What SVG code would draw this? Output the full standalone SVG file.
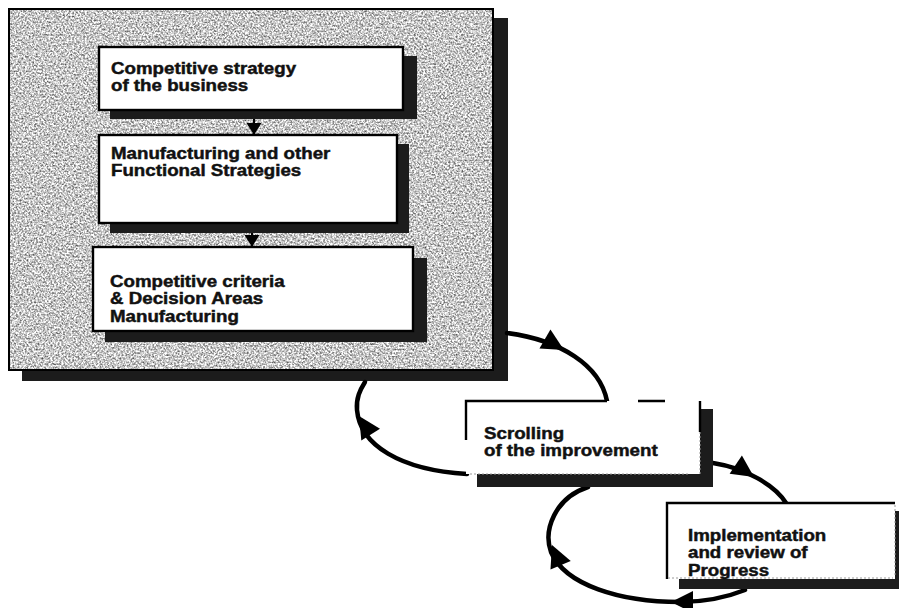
<svg xmlns="http://www.w3.org/2000/svg" width="899" height="608" viewBox="0 0 899 608">
  <style>
    .shadow{fill:#1c1c1c}
    .box{fill:#fff;stroke:#000;stroke-width:2.4}
    .edge{fill:none;stroke:#000;stroke-width:2.4}
    .faint{fill:none;stroke:#9a9a9a;stroke-width:1;stroke-dasharray:2 2}
    .lbl{font-family:"Liberation Sans",Arial,sans-serif;font-weight:bold;font-size:16px;fill:#111;stroke:#111;stroke-width:0.45}
    .arc{fill:none;stroke:#000;stroke-width:4.5;stroke-linecap:round}
    .link{stroke:#000;stroke-width:2}
  </style>
  <defs>
    <!-- speckled grey paper texture for the strategy panel -->
    <filter id="grain" x="0" y="0" width="1" height="1" color-interpolation-filters="sRGB">
      <feTurbulence type="fractalNoise" baseFrequency="0.55" numOctaves="2" seed="7"/>
      <feColorMatrix type="matrix" values="1.3 0 0 0 0.13  1.3 0 0 0 0.13  1.3 0 0 0 0.13  0 0 0 0 1"/>
      <feComposite in2="SourceGraphic" operator="in"/>
    </filter>
    <marker id="tri" viewBox="0 0 10 10" refX="10" refY="5" markerWidth="12" markerHeight="15" markerUnits="userSpaceOnUse" orient="auto" preserveAspectRatio="none">
      <path d="M0,0 L10,5 L0,10 Z" fill="#000"/>
    </marker>
    <path id="ah" d="M0,0 L-22,-11 L-22,11 Z" fill="#000"/>
  </defs>

  <!-- strategy panel -->
  <g id="panel">
    <rect class="shadow" x="22" y="18" width="486" height="363"/>
    <rect x="9" y="9" width="484" height="361" fill="#c6c6c6"/>
    <rect x="9" y="9" width="484" height="361" filter="url(#grain)"/>
    <rect x="9" y="9" width="484" height="361" fill="none" stroke="#000" stroke-width="2"/>
  </g>

  <!-- connectors -->
  <g id="connectors">
    <line class="link" x1="254" y1="110" x2="254" y2="135" marker-end="url(#tri)"/>
    <line class="link" x1="252" y1="223" x2="252" y2="247" marker-end="url(#tri)"/>

    <path class="arc" d="M507,333 C560,340 600,365 607,401"/>
    <path class="arc" d="M467,474 C400,470 360,445 357,410 C356,398 360,390 365,382"/>
    <path class="arc" d="M713,463 C745,468 775,485 786,503"/>
    <path class="arc" d="M745,590 C725,598 705,602 680,602 C620,602 565,585 551,552 C543,530 555,498 588,487"/>

    <use href="#ah" transform="translate(564,350) rotate(30)"/>
    <use href="#ah" transform="translate(359,416) rotate(-122)"/>
    <use href="#ah" transform="translate(754,477) rotate(34)"/>
    <use href="#ah" transform="translate(552,545) rotate(-113)"/>
    <use href="#ah" transform="translate(671,602) rotate(180)"/>
  </g>

  <g id="competitive-strategy">
    <rect class="shadow" x="110" y="56" width="307" height="63"/>
    <rect class="box" x="99" y="47" width="304" height="63"/>
    <g transform="translate(111,0) scale(1.17,1)">
      <text class="lbl" x="0" y="74">Competitive strategy</text>
      <text class="lbl" x="0" y="91">of the business</text>
    </g>
  </g>

  <g id="functional-strategies">
    <rect class="shadow" x="110" y="144" width="299" height="89"/>
    <rect class="box" x="99" y="135" width="298" height="88"/>
    <g transform="translate(111,0) scale(1.17,1)">
      <text class="lbl" x="0" y="159">Manufacturing and other</text>
      <text class="lbl" x="0" y="176">Functional Strategies</text>
    </g>
  </g>

  <g id="criteria">
    <rect class="shadow" x="105" y="258" width="322" height="84"/>
    <rect class="box" x="93" y="247" width="320" height="84"/>
    <g transform="translate(110,0) scale(1.17,1)">
      <text class="lbl" x="0" y="287">Competitive criteria</text>
      <text class="lbl" x="0" y="304">&amp; Decision Areas</text>
      <text class="lbl" x="0" y="322">Manufacturing</text>
    </g>
  </g>

  <g id="scrolling">
    <rect class="shadow" x="477" y="409" width="236" height="78"/>
    <rect x="466" y="401" width="234" height="73" fill="#fff"/>
    <path class="edge" d="M466,440 V401 H607 M638,401 H665 M700,401 V432"/>
    <path class="faint" d="M470,474 H690 M700,432 V474"/>
    <g transform="translate(484,0) scale(1.17,1)">
      <text class="lbl" x="0" y="439">Scrolling</text>
      <text class="lbl" x="0" y="456">of the improvement</text>
    </g>
  </g>

  <g id="implementation">
    <rect class="shadow" x="679" y="511" width="230" height="78"/>
    <rect x="667" y="503" width="228" height="76" fill="#fff"/>
    <path class="edge" d="M667,579 V503 H895"/>
    <path class="faint" d="M895,505 V577 M668,578 H893"/>
    <g transform="translate(688,0) scale(1.17,1)">
      <text class="lbl" x="0" y="541">Implementation</text>
      <text class="lbl" x="0" y="558">and review of</text>
      <text class="lbl" x="0" y="576">Progress</text>
    </g>
  </g>
</svg>
